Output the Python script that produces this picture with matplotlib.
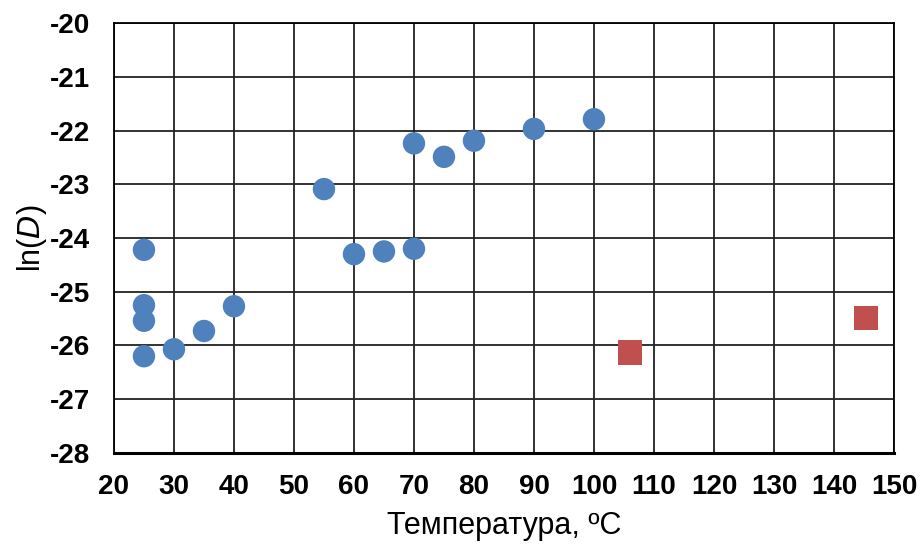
import matplotlib.pyplot as plt

# blue series (circles)
temp_blue = [25, 25, 25, 25, 30, 35, 40, 55, 60, 65, 70, 70, 75, 80, 90, 100]
lnD_blue = [-24.22, -25.25, -25.54, -26.20, -26.07, -25.73, -25.27, -23.09,
            -24.30, -24.25, -24.20, -22.24, -22.49, -22.19, -21.97, -21.79]

# red series (squares)
temp_red = [106, 145.4]
lnD_red = [-26.13, -25.48]

x_ticks = list(range(20, 151, 10))
y_ticks = list(range(-28, -19, 1))

plt.rcParams['font.family'] = ['Liberation Sans', 'DejaVu Sans']
plt.rcParams['axes.unicode_minus'] = False

fig = plt.figure(figsize=(9.22, 5.44), dpi=100)
ax = fig.add_axes([0.1236, 0.1673, 0.8460, 0.7904])

ax.scatter(temp_blue, lnD_blue, s=260, marker='o', color='#4F81BD',
           edgecolors='none', zorder=3)
ax.scatter(temp_red, lnD_red, s=300, marker='s', color='#C0504D',
           edgecolors='none', zorder=3)

ax.set_xlim(20, 150)
ax.set_ylim(-28, -20)
ax.set_xticks(x_ticks)
ax.set_yticks(y_ticks)
ax.grid(True, color='#222222', linewidth=1.3)
ax.set_axisbelow(True)
for side in ['top', 'right', 'left']:
    ax.spines[side].set_linewidth(1.3)
ax.spines['bottom'].set_linewidth(2.2)
ax.tick_params(axis='x', length=0, pad=15, labelsize=20)
ax.tick_params(axis='y', length=0, pad=17, labelsize=20)
for lbl in ax.get_xticklabels() + ax.get_yticklabels():
    lbl.set_fontweight('bold')

ax.set_xlabel('Температура, ºC', fontsize=22, labelpad=8)
ax.set_ylabel(r'ln($\mathit{D}$)', fontsize=22, labelpad=1)

fig.savefig('out.png', dpi=100)
